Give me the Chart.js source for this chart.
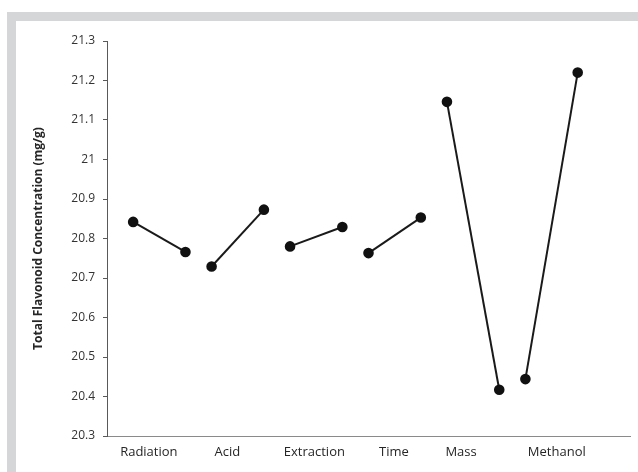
<!DOCTYPE html>
<html>
<head>
<meta charset="utf-8">
<script src="https://cdn.jsdelivr.net/npm/chart.js@4"></script>
<style>
  html, body { margin: 0; padding: 0; background: #fff; }
  #frame {
    position: absolute; left: 7px; top: 12px; width: 700px; height: 500px;
    border-left: 9px solid #d4d6d7; border-top: 9px solid #d4d6d7;
    background: #fff;
  }
  #wrap { position: absolute; left: 0; top: 0; width: 638px; height: 472px; }
</style>
</head>
<body>
<div id="frame"></div>
<div id="wrap"><canvas id="myChart"></canvas></div>
<script>
  // factors, each with a low and a high level mean
  const factors = ["Radiation", "Acid", "Extraction", "Time", "Mass", "Methanol"];
  const lowLevel = [20.842, 20.729, 20.780, 20.763, 21.146, 20.444];
  const highLevel = [20.766, 20.873, 20.829, 20.853, 20.417, 21.220];
  // where each factor label sits along the axis (in category units)
  const labelPos = [1.6, 4.6, 7.93, 10.97, 13.54, 17.2];
  const yTicks = [20.3, 20.4, 20.5, 20.6, 20.7, 20.8, 20.9, 21, 21.1, 21.2, 21.3];

  const font = "'Open Sans', sans-serif";

  const datasets = factors.map((name, i) => ({
    label: name,
    data: [
      { x: 3 * i + 1, y: lowLevel[i] },
      { x: 3 * i + 3, y: highLevel[i] },
    ],
    borderColor: "#1a1a1a",
    backgroundColor: "#111",
    pointBackgroundColor: "#111",
    pointBorderColor: "#111",
    borderWidth: 2,
    pointRadius: 4.3,
    tension: 0,
  }));

  const ctx = document.getElementById("myChart").getContext("2d");
  new Chart(ctx, {
    type: "line",
    data: { datasets },
    options: {
      responsive: true,
      maintainAspectRatio: false,
      animation: false,
      layout: { padding: { left: 25, top: 41, right: 8, bottom: 0 } },
      plugins: {
        legend: { display: false },
        tooltip: { enabled: false },
      },
      scales: {
        x: {
          type: "linear",
          min: 0,
          max: 20,
          afterBuildTicks: (s) => { s.ticks = labelPos.map((v) => ({ value: v })); },
          afterFit: (s) => { s.height = 36; },
          grid: { display: true, drawOnChartArea: false, drawTicks: false },
          border: { color: "#8a8a8a", width: 1 },
          ticks: {
            autoSkip: false,
            maxRotation: 0,
            padding: 8,
            color: "#262626",
            font: { family: font, size: 13 },
            callback: (v, i) => factors[i],
          },
        },
        y: {
          min: 20.3,
          max: 21.3,
          afterBuildTicks: (s) => { s.ticks = yTicks.map((v) => ({ value: v })); },
          afterFit: (s) => { s.width = 82; },
          grid: { display: true, drawOnChartArea: false, drawTicks: true, tickLength: 4, color: "#595959" },
          border: { color: "#595959", width: 1 },
          ticks: {
            padding: 8,
            color: "#333",
            font: { family: font, size: 12 },
            callback: (v) => String(Math.round(v * 10) / 10),
          },
          title: {
            display: true,
            text: "Total Flavonoid Concentration (mg/g)",
            color: "#262626",
            font: { family: font, size: 12, weight: "bold" },
            padding: { top: 6, bottom: 0 },
          },
        },
      },
    },
  });
</script>
</body>
</html>
